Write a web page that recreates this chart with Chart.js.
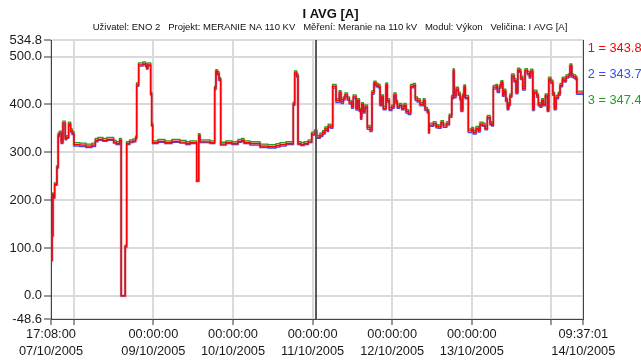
<!DOCTYPE html>
<html>
<head>
<meta charset="utf-8">
<title>I AVG [A]</title>
<script src="https://cdn.jsdelivr.net/npm/chart.js@4.4.1/dist/chart.umd.min.js"></script>
<style>
  html, body { margin: 0; padding: 0; background: #ffffff; }
  #wrap { width: 641px; height: 360px; position: relative; }
</style>
</head>
<body>
<div id="wrap"><canvas id="chart" width="641" height="360"></canvas></div>
<script>
// Hours elapsed since 07/10/2005 17:08:00
const hours = [
  0, 0.33, 0.57, 0.87, 1.09, 1.78, 2.17, 2.53, 3.08, 3.59,
  4.28, 4.70, 5.31, 5.91, 6.39, 6.91, 8.72, 10.53, 12.34, 13.39,
  14.15, 15.65, 16.86, 18.88, 19.66, 20.69, 21.17, 22.38, 22.80, 23.70,
  24.70, 25.52, 25.82, 26.42, 27.72, 28.53, 28.83, 29.22, 30.04, 30.34,
  30.64, 32.24, 34.35, 36.46, 38.88, 40.69, 41.89, 43.91, 44.52, 44.91,
  46.72, 47.93, 49.34, 49.73, 50.13, 50.64, 51.15, 52.75, 54.56, 56.37,
  57.48, 58.18, 59.99, 63.00, 65.43, 67.85, 69.04, 70.85, 73.05, 73.47,
  74.07, 74.47, 75.37, 76.28, 77.57, 78.60, 79.59, 80.10, 81.10, 81.91,
  82.61, 83.30, 83.60, 84.33, 84.93, 85.93, 86.92, 87.43, 88.13, 88.64,
  89.33, 89.94, 90.66, 91.14, 91.96, 92.47, 92.95, 93.38, 93.68, 94.16,
  94.67, 95.37, 96.18, 96.78, 97.39, 97.99, 98.68, 99.20, 99.71, 100.19,
  101.00, 101.40, 102.00, 102.73, 103.42, 104.02, 104.41, 105.02, 105.74, 106.43,
  107.04, 107.73, 108.45, 109.24, 109.84, 110.45, 111.26, 112.26, 112.77, 113.46,
  113.88, 114.07, 115.27, 116.09, 116.78, 117.59, 118.29, 119.31, 120.10, 120.82,
  121.31, 121.52, 122.12, 122.81, 123.33, 123.63, 124.14, 124.53, 124.92, 125.83,
  126.85, 127.33, 128.15, 128.84, 129.36, 130.17, 130.86, 131.56, 132.37, 132.88,
  133.37, 134.18, 134.57, 135.18, 135.69, 136.20, 136.59, 137.11, 137.59, 138.01,
  138.40, 138.92, 139.61, 140.21, 140.73, 141.21, 141.63, 142.24, 142.93, 143.62,
  144.23, 144.65, 145.25, 145.64, 146.46, 146.94, 147.45, 147.97, 148.45, 149.05,
  149.66, 150.08, 150.68, 151.29, 151.77, 152.28, 152.98, 153.49, 154.19, 154.69,
  155.30, 155.99, 156.50, 157.01, 157.50, 158.10, 158.52, 160.48
];

// Phase 1 current [A]
const phase1 = [
  74, 125, 212, 205, 233, 269, 336, 340, 321, 361,
  329, 331, 359, 345, 339, 316, 315, 313, 315, 325,
  327, 325, 327, 321, 318, 325, 0, 103, 318, 322,
  324, 330, 441, 483, 485, 481, 476, 483, 422, 357,
  320, 323, 320, 323, 321, 318, 320, 240, 335, 322,
  322, 320, 434, 469, 465, 452, 317, 320, 318, 323,
  325, 320, 318, 313, 312, 314, 316, 318, 401, 466,
  460, 318, 316, 318, 322, 338, 343.8, 331, 336, 341,
  349, 346, 355, 353, 438, 408, 425, 406, 412, 420,
  412, 404, 396, 416, 392, 408, 388, 372, 400, 385,
  395, 352, 347, 425, 445, 440, 438, 400, 416, 392,
  441, 408, 390, 395, 420, 405, 395, 398, 392, 398,
  385, 382, 438, 440, 412, 408, 400, 408, 390, 385,
  342, 357, 360, 354, 353, 362, 355, 360, 376, 415,
  471, 418, 432, 422, 412, 388, 418, 437, 415, 345,
  348, 341, 350, 345, 359, 357, 350, 373, 360, 358,
  436, 438, 428, 437, 446, 420, 428, 409, 392, 400,
  418, 460, 450, 425, 472, 470, 455, 433, 471, 465,
  458, 470, 390, 426, 418, 400, 397, 408, 400, 418,
  388, 453, 447, 422, 392, 415, 422, 440, 453, 450,
  458, 460, 481, 460, 458, 455, 424, 422
];

// Phase 2 current [A]
const phase2 = [
  73, 124, 211, 204, 231, 267, 333, 338, 318, 357,
  326, 329, 356, 342, 337, 313, 312, 310, 312, 322,
  325, 323, 325, 319, 316, 323, 0, 102, 316, 320,
  322, 328, 438, 480, 483, 479, 474, 481, 420, 355,
  318, 321, 318, 321, 319, 316, 318, 239, 333, 320,
  320, 318, 431, 466, 462, 450, 315, 318, 316, 321,
  323, 318, 315, 310, 309, 311, 313, 316, 398, 463,
  457, 316, 314, 316, 320, 336, 343.7, 329, 333, 338,
  346, 343, 352, 350, 434, 404, 421, 402, 409, 417,
  409, 401, 392, 413, 388, 405, 385, 369, 397, 382,
  392, 348, 343, 421, 442, 437, 435, 397, 413, 389,
  438, 405, 387, 392, 417, 402, 392, 395, 389, 395,
  382, 379, 435, 437, 408, 405, 397, 405, 387, 382,
  340, 354, 357, 351, 350, 359, 352, 357, 373, 412,
  468, 414, 429, 419, 409, 385, 415, 434, 412, 341,
  345, 338, 347, 342, 356, 354, 347, 370, 357, 355,
  432, 435, 425, 434, 443, 417, 425, 406, 389, 397,
  415, 457, 447, 422, 469, 467, 452, 430, 468, 462,
  455, 467, 387, 423, 415, 397, 394, 405, 397, 415,
  385, 450, 444, 419, 389, 412, 419, 437, 450, 447,
  455, 457, 478, 457, 455, 452, 421, 419
];

// Phase 3 current [A]
const phase3 = [
  76, 128, 215, 208, 236, 272, 340, 344, 325, 365,
  333, 335, 363, 349, 343, 320, 319, 317, 319, 329,
  331, 329, 331, 325, 322, 329, 0, 106, 322, 326,
  328, 334, 445, 487, 489, 485, 480, 487, 426, 361,
  324, 327, 324, 327, 325, 322, 324, 243, 339, 326,
  326, 324, 438, 473, 469, 456, 321, 324, 322, 327,
  329, 324, 322, 317, 316, 318, 320, 322, 405, 470,
  464, 322, 320, 322, 326, 342, 347.4, 335, 340, 345,
  353, 350, 359, 357, 442, 412, 429, 410, 416, 424,
  416, 408, 400, 420, 396, 412, 392, 376, 404, 389,
  399, 356, 351, 429, 449, 444, 442, 404, 420, 396,
  445, 412, 394, 399, 424, 409, 399, 402, 396, 402,
  389, 386, 442, 444, 416, 412, 404, 412, 394, 389,
  346, 361, 364, 358, 357, 366, 359, 364, 380, 419,
  475, 422, 436, 426, 416, 392, 422, 441, 419, 349,
  352, 345, 354, 349, 363, 361, 354, 377, 364, 362,
  440, 442, 432, 441, 450, 424, 432, 413, 396, 404,
  422, 464, 454, 429, 476, 474, 459, 437, 475, 469,
  462, 474, 394, 430, 422, 404, 401, 412, 404, 422,
  392, 457, 451, 426, 396, 419, 426, 444, 457, 454,
  462, 464, 485, 464, 462, 459, 428, 426
];

// Time axis: start, midnights, end (hours since start)
const xTickHours = [0, 6.8667, 30.8667, 54.8667, 78.8667, 102.8667, 126.8667, 150.8667, 160.4836];
const xTickLabels = [
  ['17:08:00', '07/10/2005'],
  '',
  ['00:00:00', '09/10/2005'],
  ['00:00:00', '10/10/2005'],
  ['00:00:00', '11/10/2005'],
  ['00:00:00', '12/10/2005'],
  ['00:00:00', '13/10/2005'],
  '',
  ['09:37:01', '14/10/2005']
];
const yTickValues = [-48.6, 0, 100, 200, 300, 400, 500, 534.8];

// Reading cursor position (hours since start)
const cursorHour = 79.9;

const seriesNames = ['1', '2', '3'];
const seriesColors = ['#ff0000', '#2f52f5', '#22a022'];

const titleText = 'I AVG [A]';
const subtitleText = 'Uživatel: ENO 2   Projekt: MERANIE NA 110 KV   Měření: Meranie na 110 kV   Modul: Výkon   Veličina: I AVG [A]';

const FONT = "'Liberation Sans', Arial, sans-serif";
Chart.defaults.font.family = FONT;

function toPoints(values) {
  return hours.map((h, i) => ({ x: h, y: values[i] }));
}

function valueAt(values, h) {
  let idx = 0;
  for (let i = 0; i < hours.length; i++) {
    if (hours[i] <= h) idx = i; else break;
  }
  return values[idx];
}

// Title block centred over the plot
const headerPlugin = {
  id: 'header',
  afterDraw(chart) {
    const ctx = chart.ctx;
    ctx.save();
    ctx.fillStyle = '#111';
    ctx.textAlign = 'center';
    ctx.textBaseline = 'middle';
    ctx.font = 'bold 13px ' + FONT;
    ctx.fillText(titleText, 330.5, 14);
    ctx.font = '9.5px ' + FONT;
    ctx.fillText(subtitleText, 330, 27.5);
    ctx.restore();
  }
};

// Right frame edge and the reading cursor
const framePlugin = {
  id: 'frame',
  afterDatasetsDraw(chart) {
    const ctx = chart.ctx;
    const a = chart.chartArea;
    const xs = chart.scales.x;
    ctx.save();
    ctx.strokeStyle = '#444';
    ctx.lineWidth = 1;
    ctx.beginPath();
    ctx.moveTo(Math.round(a.right) + 0.5, a.top);
    ctx.lineTo(Math.round(a.right) + 0.5, a.bottom);
    ctx.stroke();
    const cx = xs.getPixelForValue(cursorHour);
    ctx.strokeStyle = '#5a5a5a';
    ctx.lineWidth = 2;
    ctx.beginPath();
    ctx.moveTo(Math.round(cx), a.top);
    ctx.lineTo(Math.round(cx), a.bottom);
    ctx.stroke();
    ctx.restore();
  }
};

// Values read at the cursor, listed right of the plot
const readoutPlugin = {
  id: 'readout',
  afterDraw(chart) {
    const ctx = chart.ctx;
    const a = chart.chartArea;
    const all = [phase1, phase2, phase3];
    ctx.save();
    ctx.font = '12.8px ' + FONT;
    ctx.textAlign = 'left';
    ctx.textBaseline = 'middle';
    all.forEach((vals, i) => {
      ctx.fillStyle = seriesColors[i];
      ctx.fillText(seriesNames[i] + ' = ' + valueAt(vals, cursorHour).toFixed(1), a.right + 4.5, 48 + i * 26);
    });
    ctx.restore();
  }
};

new Chart(document.getElementById('chart'), {
  type: 'line',
  data: {
    datasets: [
      { label: '1', data: toPoints(phase1), borderColor: seriesColors[0], borderWidth: 1.2, stepped: true, pointRadius: 0 },
      { label: '1h', data: toPoints(phase1), borderColor: 'rgba(255,30,30,0.35)', borderWidth: 3, stepped: true, pointRadius: 0 },
      { label: '2', data: toPoints(phase2), borderColor: seriesColors[1], borderWidth: 1.3, stepped: true, pointRadius: 0 },
      { label: '3', data: toPoints(phase3), borderColor: seriesColors[2], borderWidth: 1.3, stepped: true, pointRadius: 0 }
    ]
  },
  options: {
    responsive: false,
    animation: false,
    events: [],
    layout: { padding: { top: 40, right: 57.7, left: 0, bottom: 0 } },
    plugins: {
      legend: { display: false },
      title: { display: false },
      tooltip: { enabled: false }
    },
    scales: {
      x: {
        type: 'linear',
        min: 0,
        max: 160.4836,
        afterBuildTicks(scale) { scale.ticks = xTickHours.map(v => ({ value: v })); },
        afterFit(scale) { scale.height = 41; },
        grid: { color: '#dadada', lineWidth: 2, tickColor: '#333', tickWidth: 1, tickLength: 6 },
        border: { display: true, color: '#444', width: 1 },
        ticks: {
          autoSkip: false,
          maxRotation: 0,
          minRotation: 0,
          padding: 0.5,
          color: '#1a1a1a',
          font: { size: 12.8, lineHeight: 1.37 },
          callback: (v, i) => xTickLabels[i]
        }
      },
      y: {
        min: -48.6,
        max: 534.8,
        afterBuildTicks(scale) { scale.ticks = yTickValues.map(v => ({ value: v })); },
        afterFit(scale) { scale.width = 51; },
        grid: { color: '#dadada', lineWidth: 2, tickColor: '#333', tickWidth: 1, tickLength: 7 },
        border: { display: true, color: '#444', width: 1 },
        ticks: {
          padding: 2,
          color: '#1a1a1a',
          font: { size: 13 },
          callback: v => Number(v).toFixed(1)
        }
      }
    }
  },
  plugins: [headerPlugin, framePlugin, readoutPlugin]
});
</script>
</body>
</html>
